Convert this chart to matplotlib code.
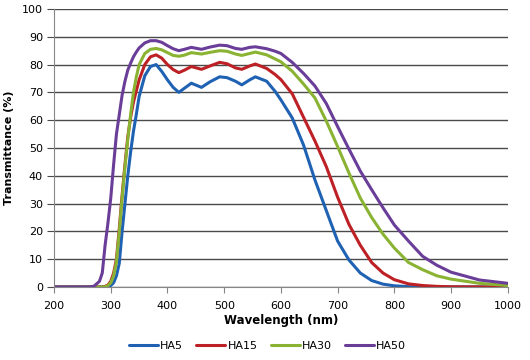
import matplotlib.pyplot as plt

# wavelength grid (nm) and transmittance (%)
wl = [200, 260, 270, 280, 285, 290, 295, 300, 305, 310, 315, 320, 325, 330, 335, 340,
      345, 350, 360, 370, 380, 390, 400, 410, 420, 430, 442, 460, 475, 492, 505, 520,
      531, 545, 555, 575, 590, 600, 620, 640, 660, 680, 700, 720, 740, 760, 780, 800,
      825, 850, 875, 900, 950, 1000]

ha5 = [0, 0, 0, 0, 0, 0, 0, 0.5, 1.5, 4, 8.5, 20, 30, 40, 48.5, 56,
       62, 68.5, 76, 79.3, 80, 77.5, 74.5, 71.8, 70, 71.5, 73.3, 71.8, 73.8, 75.6, 75.3, 74,
       72.7, 74.5, 75.6, 74, 70.3, 67.3, 60.8, 51, 38.5, 27.5, 16.5, 9.7, 5, 2.3, 1, 0.4,
       0.1, 0, 0, 0, 0, 0]
ha15 = [0, 0, 0, 0, 0, 0.2, 0.7, 2, 5, 10, 21, 33, 44, 54, 61, 66.5,
        70.5, 74.5, 80, 82.8, 83.5, 82.3, 80, 78.2, 77.1, 78, 79.3, 78.3, 79.5, 80.8, 80.3, 78.8,
        78.3, 79.5, 80.2, 78.6, 76.4, 74.6, 69.5, 61, 52.5, 43.3, 32.3, 22.5, 15, 8.8, 5, 2.6,
        1.1, 0.5, 0.2, 0.05, 0, 0]
ha30 = [0, 0, 0, 0, 0, 0, 0.5, 1.5, 4, 9, 20, 32, 43, 53, 62, 70,
        75.5, 80, 84, 85.5, 85.8, 85.3, 84.3, 83.3, 83, 83.4, 84.3, 83.8, 84.4, 85, 84.8, 83.8,
        83.3, 84, 84.5, 83.5, 82, 81, 77.6, 73, 68, 59.7, 50.5, 41, 32, 25, 19, 14,
        8.8, 6.2, 4, 2.8, 1.3, 0.5]
ha50 = [0, 0, 0.2, 2, 5, 15, 23, 32, 44, 55, 62, 69, 74, 78, 80.5, 82.8,
        84.5, 86, 87.8, 88.6, 88.6, 88, 86.8, 85.7, 85, 85.5, 86.2, 85.5, 86.3, 87, 86.8, 85.8,
        85.5, 86.2, 86.4, 85.7, 84.8, 84, 80.8, 76.8, 72.3, 66, 57.7, 49.6, 41.7, 35, 28.5, 22.3,
        16.5, 11, 7.8, 5.3, 2.5, 1.3]

names = ['HA5', 'HA15', 'HA30', 'HA50']
colors = ['#1f62b3', '#bd2025', '#8ab333', '#6a3e98']

fig = plt.figure(figsize=(5.3, 3.6), dpi=100)
ax = fig.add_axes([0.102, 0.203, 0.856, 0.772])

for y, name, c in zip([ha5, ha15, ha30, ha50], names, colors):
    ax.plot(wl, y, color=c, lw=2.2, label=name, solid_joinstyle='round', solid_capstyle='round')

ax.set_xlim(200, 1000)
ax.set_ylim(0, 100)
ax.set_xticks(range(200, 1001, 100))
ax.set_yticks(range(0, 101, 10))
ax.yaxis.grid(True, color='#4a4a4a', lw=1)
ax.set_axisbelow(True)

for s in ['top', 'right']:
    ax.spines[s].set_visible(False)
for s in ['left', 'bottom']:
    ax.spines[s].set_color('#868686')
ax.tick_params(axis='x', direction='out', length=4, color='#868686', labelsize=8, pad=6)
ax.tick_params(axis='y', direction='out', length=5, color='#4a4a4a', labelsize=8, pad=3)

ax.set_xlabel('Wavelength (nm)', fontsize=8.5, fontweight='bold', labelpad=2)
ax.set_ylabel('Transmittance (%)', fontsize=8, fontweight='bold', labelpad=6)

fig.legend(loc='center', bbox_to_anchor=(0.505, 0.04), ncol=4, frameon=False,
           fontsize=8, handlelength=2.6, handletextpad=0.2, columnspacing=1.2)

fig.savefig('out.png', dpi=100)
